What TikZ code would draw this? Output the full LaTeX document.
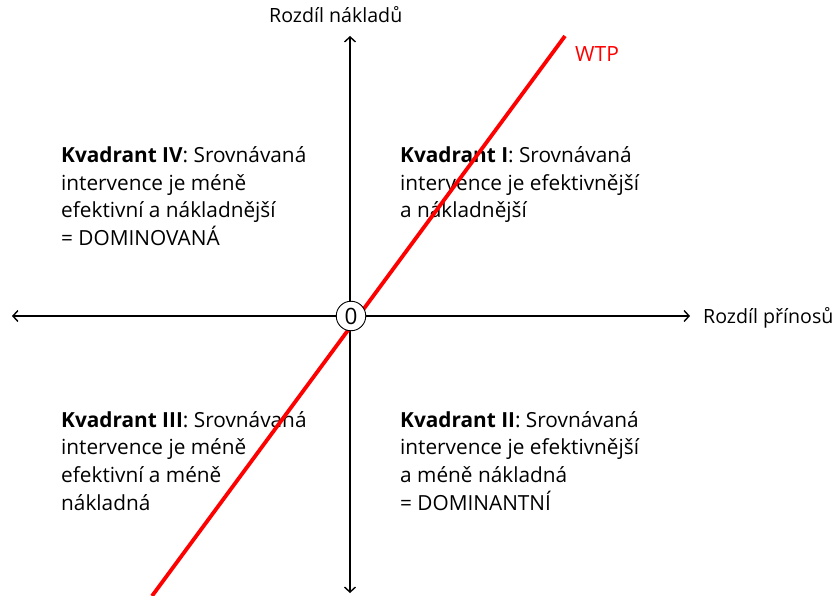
\documentclass[tikz,border=0pt]{standalone}
\usepackage{fontspec}
\setmainfont{Open Sans}
\usetikzlibrary{arrows.meta}
\tikzset{
  axis/.style={line width=1.4pt, {Straight Barb[length=5pt,width=11pt]}-{Straight Barb[length=5pt,width=11pt]}},
  quadtext/.style={anchor=base west, inner sep=0pt, font=\fontsize{20.8}{27.7}\selectfont},
  axislabel/.style={anchor=base west, inner sep=0pt, font=\fontsize{19.6}{24}\selectfont},
  wtpline/.style={draw=red, line width=3.8pt},
  origin/.style={circle, draw, fill=white, line width=0.9pt, minimum size=29.5pt, inner sep=0pt, font=\fontsize{22.5}{24}\selectfont}
}
\begin{document}
\begin{tikzpicture}[x=1pt, y=-1pt]
  \useasboundingbox (0,0) rectangle (838,596);
  % axis end points
  \coordinate (xl) at (12,316);
  \coordinate (xr) at (690,316);
  \coordinate (yt) at (350,36);
  \coordinate (yb) at (350,593);
  \coordinate (w1) at (152,596);
  \coordinate (w2) at (565,36);

  % quadrant descriptions
  \node[quadtext] (q4) at (61,162.5) {\begin{tabular}[t]{@{}l@{}}\textbf{Kvadrant IV}: Srovnávaná\\intervence je méně\\efektivní a nákladnější\\= DOMINOVANÁ\end{tabular}};
  \node[quadtext] (q1) at (400,162.5) {\begin{tabular}[t]{@{}l@{}}\textbf{Kvadrant I}: Srovnávaná\\intervence je efektivnější\\a nákladnější\end{tabular}};
  \node[quadtext] (q3) at (61,427) {\begin{tabular}[t]{@{}l@{}}\textbf{Kvadrant III}: Srovnávaná\\intervence je méně\\efektivní a méně\\nákladná\end{tabular}};
  \node[quadtext] (q2) at (400,427) {\begin{tabular}[t]{@{}l@{}}\textbf{Kvadrant II}: Srovnávaná\\intervence je efektivnější\\a méně nákladná\\= DOMINANTNÍ\end{tabular}};

  % axes
  \draw[axis] (xl) -- (xr);
  \draw[axis] (yb) -- (yt);
  \node[axislabel] (lx) at (703,323) {Rozdíl přínosů};
  \node[axislabel] (ly) at (269,23) {Rozdíl nákladů};

  % willingness-to-pay threshold
  \draw[wtpline] (w1) -- (w2);
  \node[axislabel, text=red, font=\fontsize{21}{24}\selectfont] (wtp) at (575,62) {WTP};

  % origin marker
  \node[origin] (o) at (351,316) {0};
\end{tikzpicture}
\end{document}
